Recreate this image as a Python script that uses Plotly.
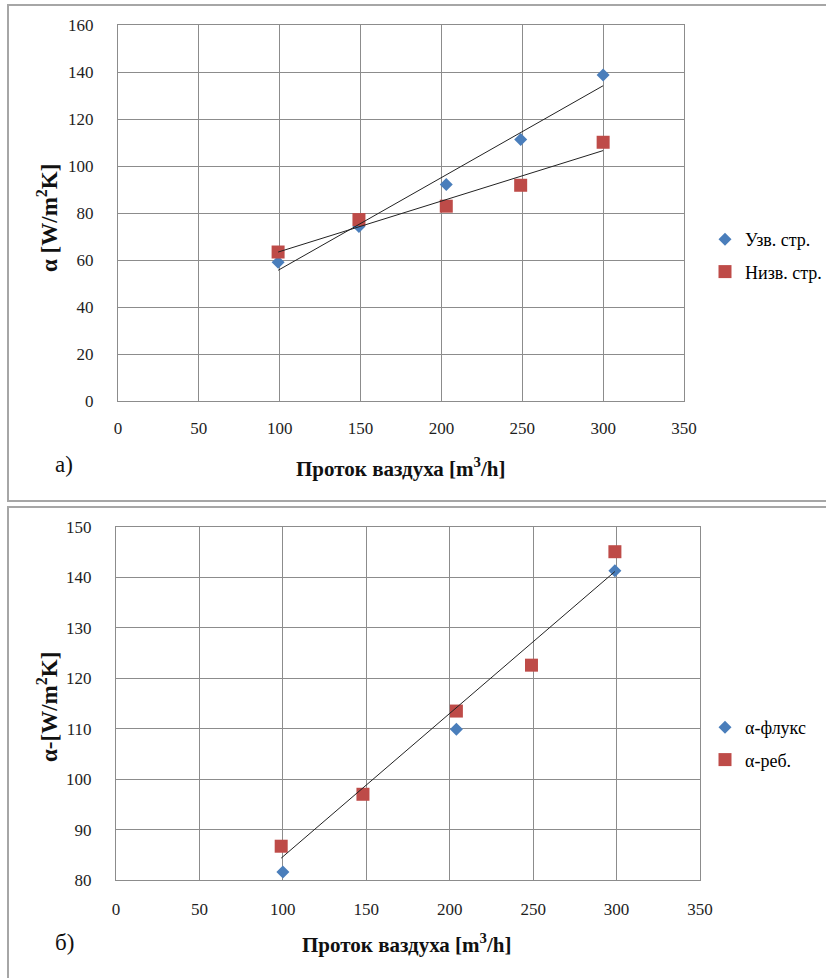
import numpy as np
import plotly.graph_objects as go

# Panel а) — heat transfer coefficient vs. air flow
flow_a = [99, 149, 203, 249, 300]
uzv = [59.0, 74.3, 92.1, 111.3, 138.7]
nizv = [63.4, 77.2, 82.9, 91.8, 110.1]

# Panel б)
flow_b_flux = [100, 204, 299]
alpha_flux = [81.6, 109.9, 141.3]
flow_b_reb = [99, 148, 204, 249, 299]
alpha_reb = [86.7, 97.0, 113.5, 122.6, 145.1]

x_ticks = [0, 50, 100, 150, 200, 250, 300, 350]
y_ticks_a = [0, 20, 40, 60, 80, 100, 120, 140, 160]
y_ticks_b = [80, 90, 100, 110, 120, 130, 140, 150]

W, H = 826, 978
BLUE = "#4a7ebb"
RED = "#be4b48"
GRID = "#8c8c8c"
FONT = "Liberation Serif, Times New Roman, serif"


def px_x(p):
    return p / W


def px_y(p):
    return 1 - p / H


def trend(x, y):
    k, b = np.polyfit(x, y, 1)
    xs = np.array([min(x), max(x)])
    return xs, k * xs + b


fig = go.Figure()

# panel а)
fig.add_trace(go.Scatter(x=flow_a, y=uzv, mode="markers", name="Узв. стр.",
                         marker=dict(symbol="diamond", size=10, color=BLUE),
                         xaxis="x", yaxis="y", legend="legend", legendgroup="a1"))
fig.add_trace(go.Scatter(x=flow_a, y=nizv, mode="markers", name="Низв. стр.",
                         marker=dict(symbol="square", size=13, color=RED),
                         xaxis="x", yaxis="y", legend="legend", legendgroup="a2"))
for ys in (uzv, nizv):
    tx, ty = trend(flow_a, ys)
    fig.add_trace(go.Scatter(x=tx, y=ty, mode="lines", showlegend=False,
                             line=dict(color="#222222", width=1),
                             xaxis="x", yaxis="y"))

# panel б)
fig.add_trace(go.Scatter(x=flow_b_flux, y=alpha_flux, mode="markers", name="α-флукс",
                         marker=dict(symbol="diamond", size=10, color=BLUE),
                         xaxis="x2", yaxis="y2", legend="legend2", legendgroup="b1"))
fig.add_trace(go.Scatter(x=flow_b_reb, y=alpha_reb, mode="markers", name="α-реб.",
                         marker=dict(symbol="square", size=13, color=RED),
                         xaxis="x2", yaxis="y2", legend="legend2", legendgroup="b2"))
tx, ty = trend(flow_b_reb, alpha_reb)
fig.add_trace(go.Scatter(x=tx, y=ty, mode="lines", showlegend=False,
                         line=dict(color="#222222", width=1),
                         xaxis="x2", yaxis="y2"))

axis_common = dict(showgrid=True, gridcolor=GRID, gridwidth=1, zeroline=False,
                   showline=True, linecolor=GRID, linewidth=1, mirror=True,
                   ticks="",
                   tickfont=dict(family=FONT, size=17, color="#1e1e1e"))

legend_common = dict(xanchor="left", yanchor="top",
                     font=dict(family=FONT, size=18, color="#000000"),
                     tracegroupgap=6, bgcolor="rgba(0,0,0,0)", itemwidth=30)

fig.update_layout(
    width=W, height=H,
    margin=dict(l=0, r=0, t=0, b=0, autoexpand=False),
    paper_bgcolor="white", plot_bgcolor="white",
    xaxis=dict(domain=[px_x(118), px_x(684)], range=[0, 350], tickvals=x_ticks,
               anchor="y", ticklabelstandoff=12, **axis_common),
    yaxis=dict(domain=[px_y(401), px_y(25)], range=[0, 160], tickvals=y_ticks_a,
               anchor="x", ticklabelstandoff=20, **axis_common),
    xaxis2=dict(domain=[px_x(116), px_x(700)], range=[0, 350], tickvals=x_ticks,
                anchor="y2", ticklabelstandoff=14, **axis_common),
    yaxis2=dict(domain=[px_y(880), px_y(527)], range=[80, 150], tickvals=y_ticks_b,
                anchor="x2", ticklabelstandoff=20, **axis_common),
    legend=dict(x=px_x(705), y=px_y(221), **legend_common),
    legend2=dict(x=px_x(705), y=px_y(709), **legend_common),
    shapes=[
        dict(type="rect", xref="paper", yref="paper",
             x0=px_x(8), x1=1.05, y0=px_y(501), y1=px_y(5),
             line=dict(color="#a6a6a6", width=2)),
        dict(type="rect", xref="paper", yref="paper",
             x0=px_x(8), x1=1.05, y0=-0.05, y1=px_y(507),
             line=dict(color="#a6a6a6", width=2)),
    ],
)

title_font = dict(family=FONT, size=21, color="#111111")
ytitle_font = dict(family=FONT, size=23, color="#111111")
annotations = [
    dict(text="<b>α [W/m<sup>2</sup>K]</b>", x=px_x(47), y=px_y(218), textangle=-90,
         font=ytitle_font),
    dict(text="<b>α-[W/m<sup>2</sup>K]</b>", x=px_x(47), y=px_y(707), textangle=-90,
         font=ytitle_font),
    dict(text="<b>Проток ваздуха [m<sup>3</sup>/h]</b>", x=px_x(400), y=px_y(467),
         font=title_font),
    dict(text="<b>Проток ваздуха [m<sup>3</sup>/h]</b>", x=px_x(406), y=px_y(943),
         font=title_font),
]
for a in annotations:
    fig.add_annotation(xref="paper", yref="paper", showarrow=False,
                       xanchor="center", yanchor="middle", **a)

label_font = dict(family=FONT, size=23, color="#111111")
fig.add_annotation(text="а)", x=px_x(64), y=px_y(465), xref="paper", yref="paper",
                   showarrow=False, xanchor="center", yanchor="middle", font=label_font)
fig.add_annotation(text="б)", x=px_x(64), y=px_y(942), xref="paper", yref="paper",
                   showarrow=False, xanchor="center", yanchor="middle", font=label_font)

fig.write_html("out.html")
